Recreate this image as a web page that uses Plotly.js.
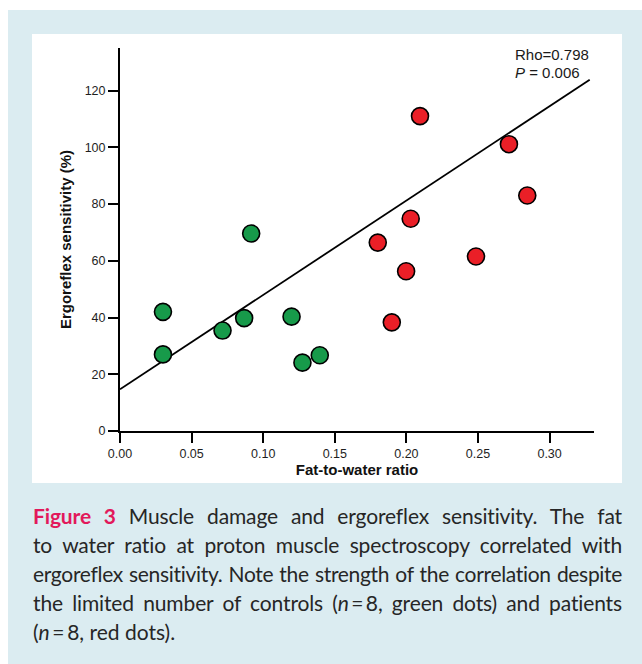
<!DOCTYPE html>
<html>
<head>
<meta charset="utf-8">
<script src="https://cdn.plot.ly/plotly-3.0.1.min.js"></script>
<style>
  html, body { margin:0; padding:0; background:#ffffff; width:642px; height:664px; overflow:hidden; }
  #frame { position:absolute; left:8px; top:10px; width:634px; height:654px; background:#dbecf1; }
  #chart { position:absolute; left:32px; top:34px; width:590px; height:449px; }
  #caption { position:absolute; left:33px; top:501px; width:589px; font-family:'Lato','Open Sans',sans-serif; font-size:21px; line-height:29px; color:#262626; }
  #caption .ln { white-space:nowrap; text-align:justify; text-align-last:justify; }
  #caption .last { text-align:left; text-align-last:left; }
  #caption .fig { color:#e2195b; font-weight:bold; }
</style>
</head>
<body>
<div id="frame"></div>
<div id="chart"></div>
<div id="caption">
  <div class="ln"><span class="fig">Figure 3</span> Muscle damage and ergoreflex sensitivity. The fat</div>
  <div class="ln">to water ratio at proton muscle spectroscopy correlated with</div>
  <div class="ln">ergoreflex sensitivity. Note the strength of the correlation despite</div>
  <div class="ln">the limited number of controls (<i>n</i>&thinsp;=&thinsp;8, green dots) and patients</div>
  <div class="ln last">(<i>n</i>&thinsp;=&thinsp;8, red dots).</div>
</div>
<script>
// Controls (green dots)
const controlsX = [0.030, 0.030, 0.0716, 0.0867, 0.0916, 0.1198, 0.1274, 0.1395];
const controlsY = [42, 27, 35.4, 39.8, 69.6, 40.3, 24.1, 26.7];
// Patients (red dots)
const patientsX = [0.2095, 0.2716, 0.2844, 0.2030, 0.1800, 0.2486, 0.1998, 0.1898];
const patientsY = [111.0, 101.1, 83.0, 74.8, 66.4, 61.5, 56.3, 38.3];
// Regression line endpoints
const fitX = [0, 0.328];
const fitY = [14.7, 123.8];
// Axis ticks
const xTicks = [0, 0.05, 0.10, 0.15, 0.20, 0.25, 0.30];
const yTicks = [0, 20, 40, 60, 80, 100, 120];
const statText1 = 'Rho=0.798';
const statText2 = '<i>P</i> = 0.006';

// Fit caption lines that would overflow the justified width
(function fitCaption() {
  const W = 589;
  document.querySelectorAll('#caption .ln').forEach(function (el) {
    const probe = document.createElement('span');
    probe.style.whiteSpace = 'nowrap';
    probe.innerHTML = el.innerHTML;
    el.innerHTML = '';
    el.appendChild(probe);
    const w = probe.getBoundingClientRect().width;
    const html = probe.innerHTML;
    el.innerHTML = html;
    if (w > W - 8) {
      const n = el.textContent.length;
      el.style.letterSpacing = (-(w - (W - 8)) / n).toFixed(3) + 'px';
    }
  });
})();

const markerStyle = (c) => ({ size: 17, color: c, line: { color: '#000000', width: 1.6 } });

const traces = [
  { x: fitX, y: fitY, mode: 'lines', type: 'scatter', line: { color: '#000000', width: 1.8 }, hoverinfo: 'skip', showlegend: false },
  { x: controlsX, y: controlsY, mode: 'markers', type: 'scatter', name: 'Controls', marker: markerStyle('#179a4a'), showlegend: false },
  { x: patientsX, y: patientsY, mode: 'markers', type: 'scatter', name: 'Patients', marker: markerStyle('#ea1f27'), showlegend: false }
];

const axisFont = { family: 'Liberation Sans, Arial, sans-serif', size: 12.5, color: '#1e1e1e' };
const titleFont = { family: 'Liberation Sans, Arial, sans-serif', size: 15, color: '#111111' };

const layout = {
  width: 590, height: 449,
  margin: { l: 88, r: 28, t: 14, b: 52 },
  paper_bgcolor: '#ffffff', plot_bgcolor: '#ffffff',
  showlegend: false,
  xaxis: {
    range: [0, 0.331], tickvals: xTicks, tickformat: '.2f',
    showgrid: false, zeroline: false, showline: true, linecolor: '#000', linewidth: 2,
    ticks: 'outside', ticklen: 10, tickwidth: 2, tickcolor: '#000',
    tickfont: axisFont, automargin: false,
    title: { text: '<b>Fat-to-water ratio</b>', font: titleFont, standoff: 3 }
  },
  yaxis: {
    range: [0, 135], tickvals: yTicks,
    showgrid: false, zeroline: false, showline: true, linecolor: '#000', linewidth: 2,
    ticks: 'outside', ticklen: 10, tickwidth: 2, tickcolor: '#000',
    tickfont: axisFont, automargin: false,
    title: { text: '<b>Ergoreflex sensitivity (%)</b>', font: titleFont, standoff: 9 }
  },
  annotations: [
    { xref: 'paper', yref: 'paper', x: 0.829, y: 0.982, xanchor: 'left', yanchor: 'middle', showarrow: false,
      text: statText1, font: { family: 'Liberation Sans, Arial, sans-serif', size: 15, color: '#1a1a1a' } },
    { xref: 'paper', yref: 'paper', x: 0.829, y: 0.935, xanchor: 'left', yanchor: 'middle', showarrow: false,
      text: statText2, font: { family: 'Liberation Sans, Arial, sans-serif', size: 15, color: '#1a1a1a' } }
  ]
};

Plotly.newPlot('chart', traces, layout, { displayModeBar: false, staticPlot: true });
</script>
</body>
</html>
